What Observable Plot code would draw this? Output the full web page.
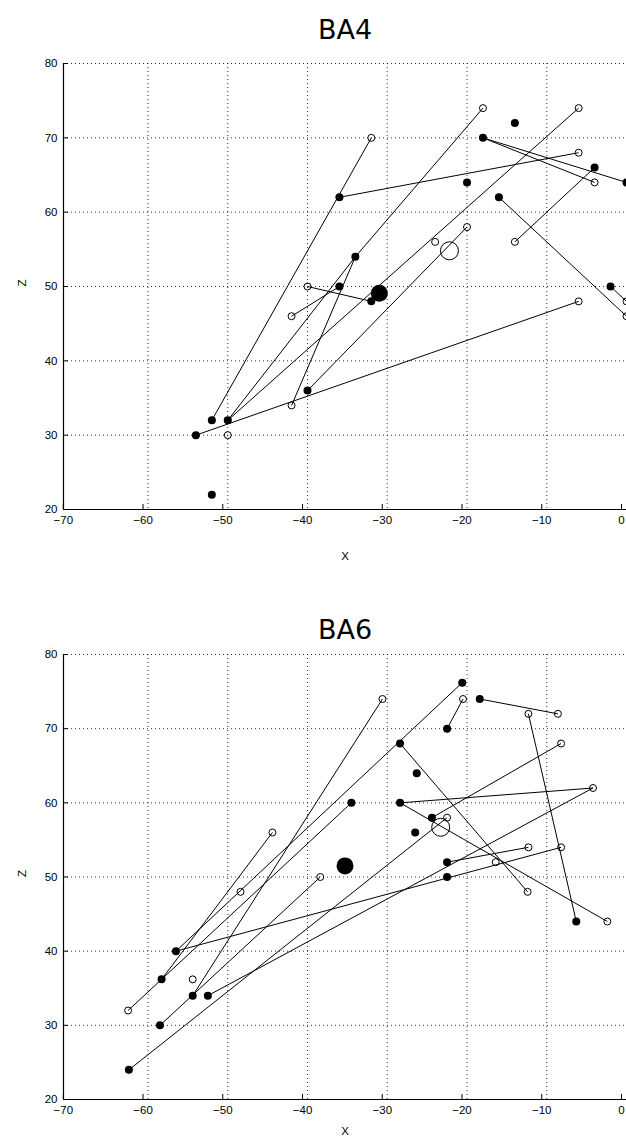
<!DOCTYPE html>
<html>
<head>
<meta charset="utf-8">
<script src="https://cdn.jsdelivr.net/npm/d3@7"></script>
<script src="https://cdn.jsdelivr.net/npm/@observablehq/plot@0.6"></script>
<style>
  html, body { margin: 0; padding: 0; background: #fff; overflow: hidden; }
  #chart svg { display: block; }
</style>
</head>
<body>
<div id="chart"></div>
<script>
// ---------- shared axes ----------
const xDomain = [-70.6, 0];
const zDomain = [20, 80];
const xTicks = [-70, -60, -50, -40, -30, -20, -10, 0];
const zTicks = [20, 30, 40, 50, 60, 70, 80];
const xGrid = [-60, -50, -40, -30, -20, -10];
const zGrid = [30, 40, 50, 60, 70, 80];

// ---------- BA4 ----------
const ba4Filled = [[-14,72],[-18,70],[-4,66],[0,64],[-36,62],[-20,64],[-16,62],[-34,54],[-36,50],[-32,48],[-2,50],[-40,36],[-52,32],[-50,32],[-54,30],[-52,22]];
const ba4Open = [[-18,74],[-6,74],[-32,70],[-6,68],[-4,64],[-20,58],[-24,56],[-14,56],[-6,48],[0,48],[0,46],[-40,50],[-42,46],[-42,34],[-50,30]];
const ba4MeanFilled = [[-31,49.1]];
const ba4MeanOpen = [[-22.2,54.8]];
const ba4Links = [
  [-52,32,-32,70],[-36,62,-6,68],[-50,32,-34,54],[-34,54,-18,74],[-50,32,-6,74],
  [-40,36,-20,58],[-42,34,-34,54],[-54,30,-6,48],[-40,50,-32,48],[-42,46,-36,50],
  [-18,70,-4,64],[-18,70,0,64],[-14,56,-4,66],[-16,62,0,46],[-2,50,0,48]
];

// ---------- BA6 ----------
const ba6Filled = [[-20.6,76.2],[-18.4,74],[-22.5,70],[-28.4,68],[-26.3,64],[-34.5,60],[-28.4,60],[-24.4,58],[-26.5,56],[-22.5,52],[-22.5,50],[-6.3,44],[-56.5,40],[-58.3,36.2],[-54.4,34],[-52.5,34],[-58.5,30],[-62.4,24]];
const ba6Open = [[-30.6,74],[-20.5,74],[-12.3,72],[-8.6,72],[-8.2,68],[-4.2,62],[-22.5,58],[-12.3,54],[-8.2,54],[-16.4,52],[-12.4,48],[-2.4,44],[-44.4,56],[-48.4,48],[-38.4,50],[-54.4,36.2],[-62.5,32]];
const ba6MeanFilled = [[-35.3,51.5]];
const ba6MeanOpen = [[-23.3,56.7]];
const ba6Links = [
  [-20.5,74,-22.5,70],[-18.4,74,-8.6,72],[-12.3,72,-6.3,44],[-20.6,76.2,-56.5,40],
  [-28.4,68,-12.4,48],[-30.6,74,-54.4,34],[-34.5,60,-62.5,32],[-28.4,60,-4.2,62],
  [-28.4,60,-2.4,44],[-8.2,68,-24.4,58],[-62.4,24,-22.5,58],[-58.5,30,-38.4,50],
  [-52.5,34,-4.2,62],[-56.5,40,-8.2,54],[-22.5,52,-12.3,54],[-44.4,56,-58.3,36.2]
];

function panel({title, filled, open, meanFilled, meanOpen, links, height, marginTop, marginBottom, titleDy, xLabelDy}) {
  const gridStyle = {stroke: "#000", strokeOpacity: 0.8, strokeWidth: 1, strokeDasharray: "1,3"};
  return Plot.plot({
    width: 626,
    height,
    marginLeft: 63,
    marginRight: 0,
    marginTop,
    marginBottom,
    style: {fontFamily: "'Liberation Sans', Arial, sans-serif", fontSize: "11px", background: "#fff", color: "#000"},
    x: {domain: xDomain},
    y: {domain: zDomain},
    marks: [
      Plot.gridX(xGrid, gridStyle),
      Plot.gridY(zGrid, gridStyle),
      Plot.ruleX([xDomain[0]], {stroke: "#000", strokeWidth: 1.2}),
      Plot.ruleY([zDomain[0]], {stroke: "#000", strokeWidth: 1.2}),
      Plot.axisX(xTicks, {tickSize: -5, tickPadding: 11, dx: -5, label: null, fontSize: 11.5}),
      Plot.axisY(zTicks, {tickSize: -5, tickPadding: 11, label: null, fontSize: 11.5}),
      Plot.link(links, {x1: d => d[0], y1: d => d[1], x2: d => d[2], y2: d => d[3], stroke: "#000", strokeWidth: 1}),
      Plot.dot(open, {x: d => d[0], y: d => d[1], r: 3.5, stroke: "#000", strokeWidth: 1, fill: "none"}),
      Plot.dot(filled, {x: d => d[0], y: d => d[1], r: 4, fill: "#000", stroke: "none"}),
      Plot.dot(meanOpen, {x: d => d[0], y: d => d[1], r: 9, stroke: "#000", strokeWidth: 1, fill: "none"}),
      Plot.dot(meanFilled, {x: d => d[0], y: d => d[1], r: 8.5, fill: "#000", stroke: "none"}),
      Plot.text([title], {frameAnchor: "top", dy: titleDy, fontSize: 27, fontFamily: "'DejaVu Sans', sans-serif", lineAnchor: "middle"}),
      Plot.text(["X"], {frameAnchor: "bottom", dy: xLabelDy, fontSize: 11.5, lineAnchor: "middle"}),
      Plot.text(["Z"], {frameAnchor: "left", dx: -41, rotate: -90, fontSize: 11.5})
    ]
  });
}

const chart = document.getElementById("chart");
chart.append(panel({title: "BA4", filled: ba4Filled, open: ba4Open, meanFilled: ba4MeanFilled, meanOpen: ba4MeanOpen, links: ba4Links,
  height: 580, marginTop: 63, marginBottom: 71, titleDy: -33, xLabelDy: 47}));
chart.append(panel({title: "BA6", filled: ba6Filled, open: ba6Open, meanFilled: ba6MeanFilled, meanOpen: ba6MeanOpen, links: ba6Links,
  height: 562, marginTop: 74, marginBottom: 43, titleDy: -24, xLabelDy: 32}));
</script>
</body>
</html>
